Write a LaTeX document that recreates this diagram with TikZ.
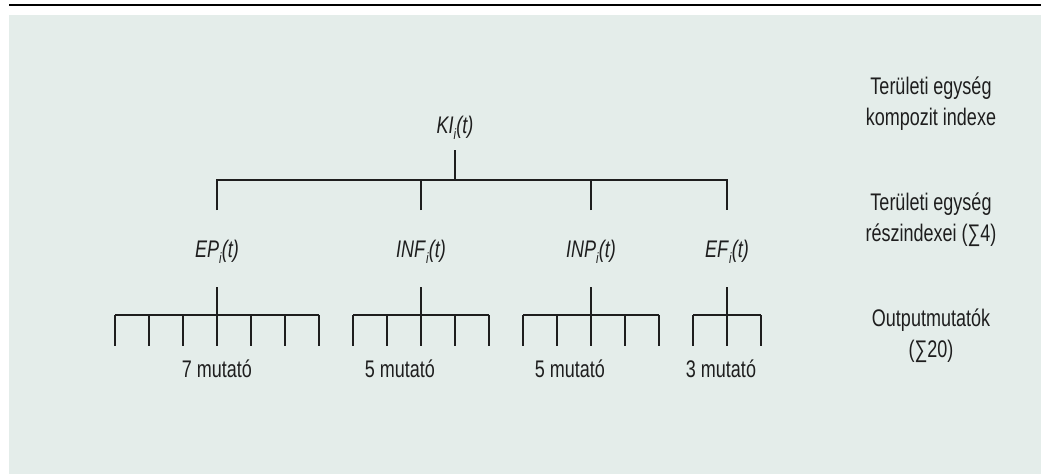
\documentclass[tikz,border=0pt]{standalone}
\usepackage{fontspec}
\setmainfont[FakeStretch=0.75]{Liberation Sans}
\usepackage{tikz}
\definecolor{bg}{RGB}{228,237,234}
\definecolor{ink}{RGB}{30,30,30}
\tikzstyle{tree} = [draw=ink, line width=1.3pt]
\tikzstyle{lbl} = [inner sep=0pt, anchor=base, text=ink, font=\fontsize{24}{31}\selectfont]
\tikzstyle{side} = [lbl, align=center]
\newcommand{\ilabel}[1]{\textit{#1}\raisebox{-0.5ex}{\fontsize{15}{15}\selectfont\textit{i}}\textit{(t)}}

\begin{document}
\begin{tikzpicture}[x=1pt, y=-1pt]

	\useasboundingbox (0,0) rectangle (1041,474);
	\fill[bg] (9,15) rectangle (1041,474);
	\draw[line width=2pt] (9,5) -- (1041,5);

	% index levels
	\node [lbl] (ki) at (455,133) {\ilabel{KI}};
	\node [lbl] (ep) at (217,257) {\ilabel{EP}};
	\node [lbl] (inf) at (421,257) {\ilabel{INF}};
	\node [lbl] (inp) at (591,257) {\ilabel{INP}};
	\node [lbl] (ef) at (727,257) {\ilabel{EF}};

	\coordinate (ki-stem) at (455,150);
	\coordinate (ki-bar) at (455,180);
	\coordinate (ep-up) at (217,210);
	\coordinate (inf-up) at (421,210);
	\coordinate (inp-up) at (591,210);
	\coordinate (ef-up) at (727,210);

	\draw [tree] (ki-stem) -- (ki-bar);
	\draw [tree] (ep-up) -- (ep-up |- ki-bar) -- (ef-up |- ki-bar) -- (ef-up);
	\draw [tree] (inf-up) -- (inf-up |- ki-bar);
	\draw [tree] (inp-up) -- (inp-up |- ki-bar);

	% output indicators
	\foreach \k in {1,...,20} {
		\coordinate (t\k) at ({115+34*(\k-1)},315);
		\draw [tree] (t\k) -- ++(0,31);
	}
	\draw [tree] (t1) -- (t7);
	\draw [tree] (t8) -- (t12);
	\draw [tree] (t13) -- (t17);
	\draw [tree] (t18) -- (t20);

	\coordinate (ep-down) at (217,287);
	\coordinate (inf-down) at (421,287);
	\coordinate (inp-down) at (591,287);
	\coordinate (ef-down) at (727,287);
	\draw [tree] (ep-down) -- (t4);
	\draw [tree] (inf-down) -- (t10);
	\draw [tree] (inp-down) -- (t15);
	\draw [tree] (ef-down) -- (t19);

	\node [lbl] (n-ep) at (217,377) {7 mutató};
	\node [lbl] (n-inf) at (400,377) {5 mutató};
	\node [lbl] (n-inp) at (570,377) {5 mutató};
	\node [lbl] (n-ef) at (721,377) {3 mutató};

	% level captions
	\node [side] (cap-ki) at (931,125) {Területi egység\\kompozit indexe};
	\node [side] (cap-sub) at (931,241) {Területi egység\\részindexei (∑4)};
	\node [side] (cap-out) at (931,357) {Outputmutatók\\(∑20)};
\end{tikzpicture}
\end{document}
